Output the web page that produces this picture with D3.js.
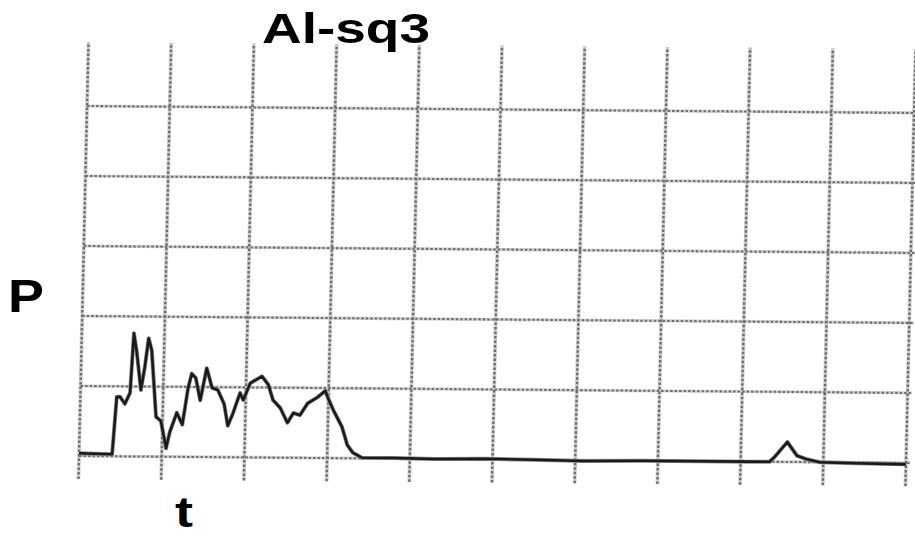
<!DOCTYPE html>
<html>
<head>
<meta charset="utf-8">
<script src="https://cdn.jsdelivr.net/npm/d3@7"></script>
<style>
  html, body { margin: 0; padding: 0; background: #fff; }
  svg { display: block; }
  text { font-family: "Liberation Sans", Arial, sans-serif; font-weight: bold; fill: #000; }
</style>
</head>
<body>
<div id="chart"></div>
<script>
// Recorded trace: time (grid divisions) and signal P (grid divisions)
const traceT = [0.00, 0.40, 0.44, 0.48, 0.54, 0.60, 0.63, 0.67, 0.73, 0.77, 0.81, 0.85, 0.89, 0.92,
  0.98, 1.05, 1.09, 1.17, 1.24, 1.30, 1.34, 1.39, 1.45, 1.52, 1.59, 1.66, 1.74, 1.79, 1.85, 1.93,
  1.97, 2.05, 2.19, 2.27, 2.33, 2.42, 2.51, 2.58, 2.66, 2.75, 2.87, 2.96, 2.99, 3.06, 3.17, 3.24,
  3.31, 3.42, 3.80, 4.30, 4.90, 5.50, 6.10, 6.80, 7.50, 8.10, 8.35, 8.41, 8.56, 8.68, 8.80, 8.96,
  9.40, 10.00];
const traceP = [0.04, 0.03, 0.85, 0.85, 0.75, 0.91, 1.76, 1.49, 0.95, 1.27, 1.69, 1.52, 0.98, 0.57,
  0.51, 0.12, 0.35, 0.63, 0.46, 0.98, 1.19, 1.13, 0.81, 1.27, 0.99, 0.96, 0.76, 0.45, 0.63, 0.92,
  0.82, 1.06, 1.16, 1.04, 0.82, 0.71, 0.50, 0.64, 0.61, 0.78, 0.87, 0.96, 0.87, 0.69, 0.45, 0.19,
  0.08, 0.01, 0.01, 0.00, 0.01, 0.00, -0.01, 0.00, 0.00, 0.00, 0.00, 0.07, 0.285, 0.09, 0.04, 0.00,
  -0.01, -0.02];

// Grid divisions
const gridT = [0, 1, 2, 3, 4, 5, 6, 7, 8, 9, 10];
const gridP = [0, 1, 2, 3, 4, 5];

const titleText = "Al-sq3";
const yLabel = "P";
const xLabel = "t";

const W = 915, H = 537;
const svg = d3.select("#chart").append("svg").attr("width", W).attr("height", H);
svg.append("rect").attr("width", W).attr("height", H).attr("fill", "#fff");

const x = d3.scaleLinear().domain([0, 10]).range([0, 827]);
const y = d3.scaleLinear().domain([0, 5]).range([0, -350]);

// Plot frame, slightly sheared like a recorder chart on paper
const plot = svg.append("g")
  .attr("transform", "matrix(1, 0.0084, -0.023, 1, 79, 456)");

// Grid: a light underlay with a darker dotted line on top
[["#d2d2d2", 3.8, null], ["#6e6e6e", 2.4, "2.5,2"]].forEach(([col, w, dash]) => {
  // vertical lines run past the top division and below the baseline
  plot.append("g").selectAll("line")
    .data(gridT).join("line")
    .attr("x1", d => x(d)).attr("x2", d => x(d))
    .attr("y1", y(-0.33)).attr("y2", y(5.91))
    .attr("stroke", col).attr("stroke-width", w)
    .attr("stroke-dasharray", dash);
  plot.append("g").selectAll("line")
    .data(gridP).join("line")
    .attr("x1", x(0)).attr("x2", x(10.05))
    .attr("y1", d => y(d)).attr("y2", d => y(d))
    .attr("stroke", col).attr("stroke-width", w * 0.85)
    .attr("stroke-dasharray", dash);
});

// Signal trace
const pts = traceT.map((t, i) => [t, traceP[i]]);
const line = d3.line().x(d => x(d[0])).y(d => y(d[1]));
plot.append("path")
  .datum(pts)
  .attr("d", line)
  .attr("fill", "none")
  .attr("stroke", "#8a8a8a")
  .attr("stroke-width", 4)
  .attr("stroke-linejoin", "round");
plot.append("path")
  .datum(pts)
  .attr("d", line)
  .attr("fill", "none")
  .attr("stroke", "#1a1a1a")
  .attr("stroke-width", 2.6)
  .attr("stroke-linejoin", "round");

// Labels
svg.append("text")
  .attr("x", 262).attr("y", 43)
  .attr("font-size", 43)
  .attr("textLength", 168)
  .attr("lengthAdjust", "spacingAndGlyphs")
  .text(titleText);

svg.append("text")
  .attr("x", 8).attr("y", 312)
  .attr("font-size", 47)
  .attr("textLength", 36)
  .attr("lengthAdjust", "spacingAndGlyphs")
  .text(yLabel);

svg.append("text")
  .attr("x", 175).attr("y", 527)
  .attr("font-size", 42)
  .attr("textLength", 18)
  .attr("lengthAdjust", "spacingAndGlyphs")
  .text(xLabel);
</script>
</body>
</html>
